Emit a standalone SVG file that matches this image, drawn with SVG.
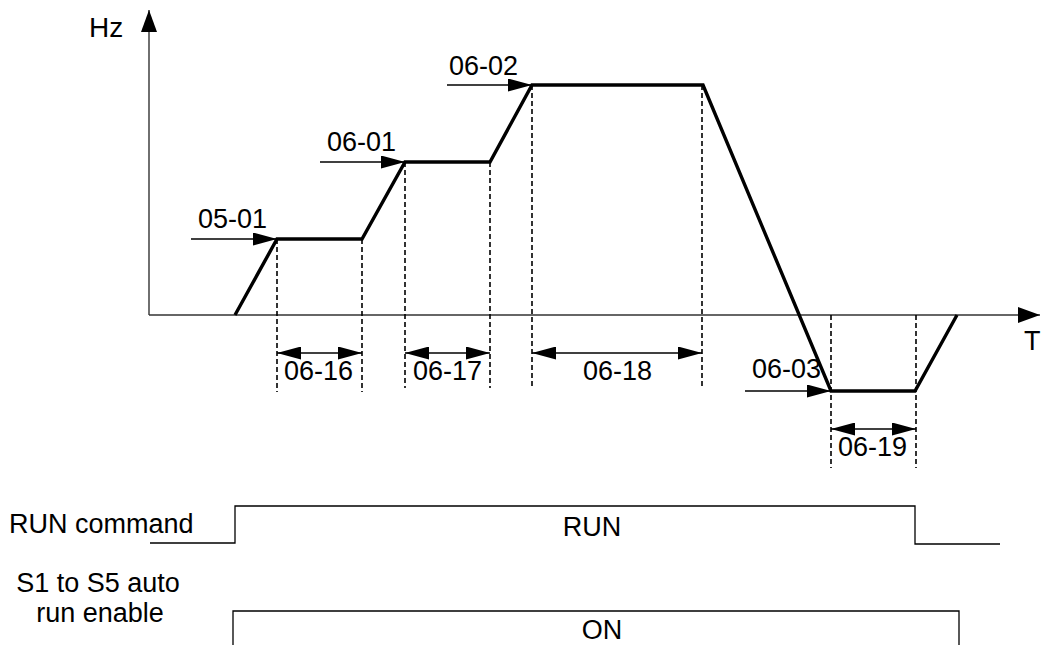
<svg xmlns="http://www.w3.org/2000/svg" width="1041" height="645" viewBox="0 0 1041 645">
<style>
text{font-family:"Liberation Sans",Arial,sans-serif;font-size:27px;fill:#000}
.thin{stroke:#000;stroke-width:1.3;fill:none}
.axis{stroke:#333;stroke-width:1.4;fill:none}
.dash{stroke:#000;stroke-width:1.6;stroke-dasharray:5 3;fill:none}
.prof{stroke:#000;stroke-width:3.4;fill:none;stroke-linejoin:miter}
.mid{text-anchor:middle}
</style>
<defs>
<marker id="ah" viewBox="0 0 24 13" refX="24" refY="6.5" markerWidth="24" markerHeight="13" markerUnits="userSpaceOnUse" orient="auto-start-reverse">
<path d="M0,0 L24,6.5 L0,13 Z" fill="#000"/>
</marker>
<marker id="ax" viewBox="0 0 22 16" refX="22" refY="8" markerWidth="22" markerHeight="16" markerUnits="userSpaceOnUse" orient="auto">
<path d="M0,0 L22,8 L0,16 Z" fill="#000"/>
</marker>
</defs>
<g id="axes">
<line class="axis" x1="149" y1="315" x2="149" y2="10" marker-end="url(#ax)"/>
<line class="axis" x1="149" y1="315" x2="1040" y2="315" marker-end="url(#ax)"/>
<text x="89" y="37" style="font-size:28px">Hz</text>
<text x="1024" y="350">T</text>
</g>
<g id="profile">
<polyline class="prof" points="235,315 277,239 362,239 405,162 490,162 532,85 703,85 831,391 915,391 957,315"/>
</g>
<g id="connectors">
<line class="dash" x1="277" y1="239" x2="277" y2="392"/>
<line class="dash" x1="362" y1="239" x2="362" y2="392"/>
<line class="dash" x1="405" y1="162" x2="405" y2="388"/>
<line class="dash" x1="490" y1="162" x2="490" y2="388"/>
<line class="dash" x1="532" y1="85" x2="532" y2="388"/>
<line class="dash" x1="702" y1="85" x2="702" y2="388"/>
<line class="dash" x1="831" y1="315" x2="831" y2="468"/>
<line class="dash" x1="916" y1="315" x2="916" y2="468"/>
<line class="thin" x1="191" y1="239" x2="277" y2="239" marker-end="url(#ah)"/>
<line class="thin" x1="320" y1="162" x2="405" y2="162" marker-end="url(#ah)"/>
<line class="thin" x1="447" y1="85" x2="532" y2="85" marker-end="url(#ah)"/>
<line class="thin" x1="745" y1="391" x2="831" y2="391" marker-end="url(#ah)"/>
<line class="thin" x1="277" y1="353" x2="362" y2="353" marker-start="url(#ah)" marker-end="url(#ah)"/>
<line class="thin" x1="405" y1="353" x2="490" y2="353" marker-start="url(#ah)" marker-end="url(#ah)"/>
<line class="thin" x1="532" y1="353" x2="702" y2="353" marker-start="url(#ah)" marker-end="url(#ah)"/>
<line class="thin" x1="831" y1="429" x2="916" y2="429" marker-start="url(#ah)" marker-end="url(#ah)"/>
</g>
<g id="labels">
<text x="198" y="228">05-01</text>
<text x="327" y="151">06-01</text>
<text x="449" y="75">06-02</text>
<text x="752" y="378">06-03</text>
<text x="284" y="380">06-16</text>
<text x="413" y="380">06-17</text>
<text x="583" y="380">06-18</text>
<text x="838" y="456">06-19</text>
</g>
<g id="run-command">
<polyline class="thin" points="150,543 235,543 235,506 915,506 915,544 1000,544"/>
<text x="9" y="533">RUN command</text>
<text class="mid" x="592" y="536">RUN</text>
</g>
<g id="auto-run">
<polyline class="thin" points="233,645 233,611 959,611 959,645"/>
<text class="mid" x="98" y="592">S1 to S5 auto</text>
<text class="mid" x="100" y="622">run enable</text>
<text class="mid" x="602" y="639">ON</text>
</g>
</svg>
